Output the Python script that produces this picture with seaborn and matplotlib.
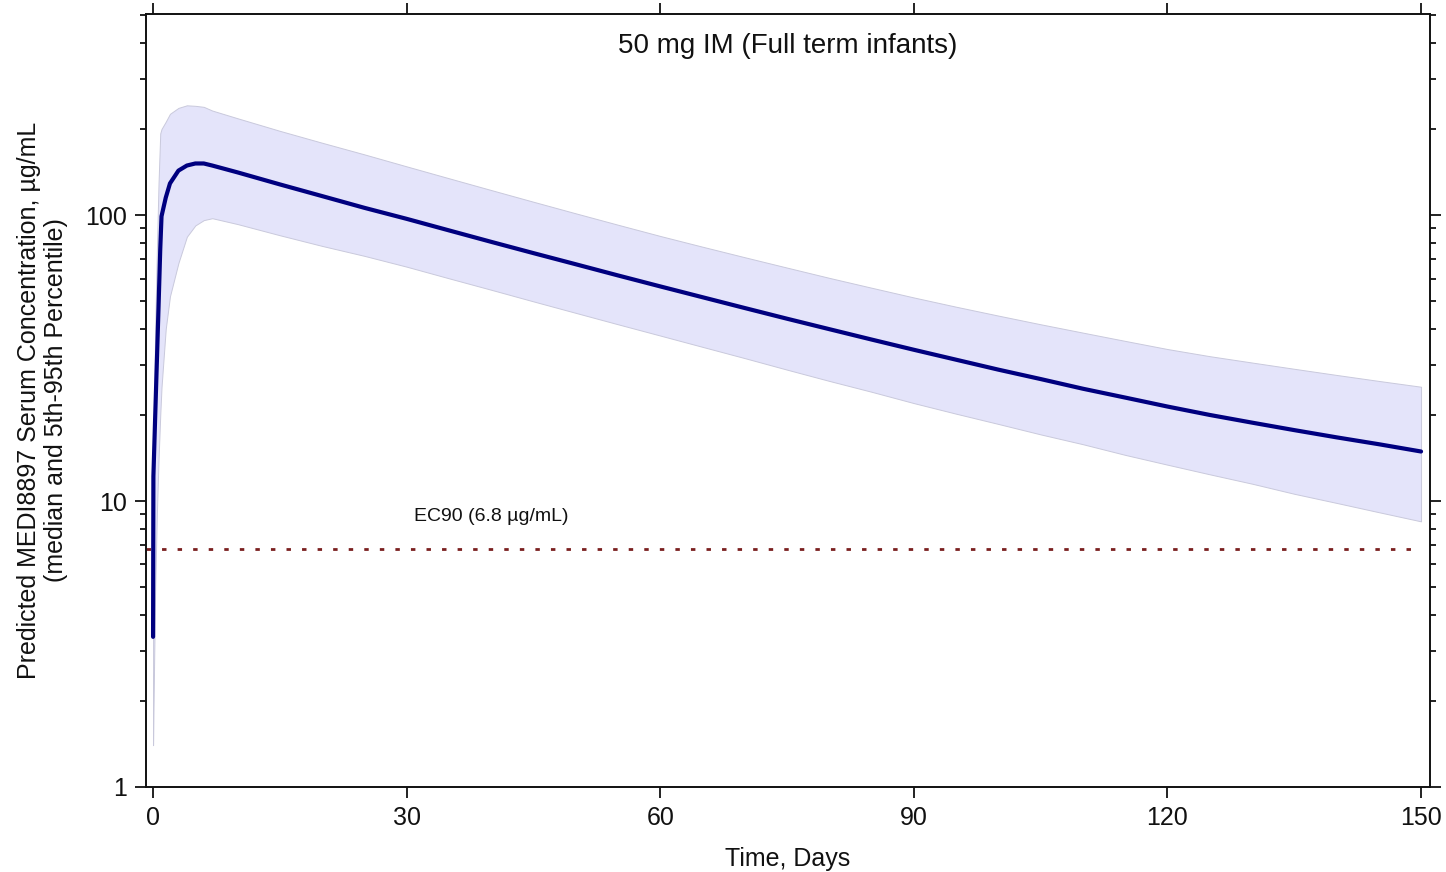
import numpy as np
import pandas as pd
import matplotlib
matplotlib.use("Agg")
import matplotlib.pyplot as plt
import matplotlib.ticker as mticker
import seaborn as sns

# ---- data ----
time_days = [0, 0.04, 0.25, 0.45, 0.65, 0.85, 1.0, 1.5, 2, 3, 4, 5, 6, 7, 10, 15, 20, 25,
             30, 35, 40, 45, 50, 55, 60, 65, 70, 75, 80, 85, 90, 95, 100, 105, 110,
             115, 120, 125, 130, 135, 140, 145, 150]
median_conc = [3.35, 12.2, 19.7, 30.7, 48, 76, 99, 115, 129, 143, 149, 151.5, 151.5, 149,
               141, 128, 116.5, 106, 97, 88.4, 80.6, 73.6, 67.3, 61.5, 56.3, 51.6, 47.3,
               43.4, 39.9, 36.7, 33.8, 31.2, 28.8, 26.7, 24.7, 23.0, 21.4, 20.0, 18.8,
               17.7, 16.7, 15.8, 14.9]
p95_conc = [5, 15, 40, 75, 130, 193, 200, 212, 226, 237, 242, 241, 239, 232, 218, 197,
            179, 163, 148, 134.5, 122.3, 111.3, 101.4, 92.5, 84.5, 77.5, 71.2, 65.5, 60.3,
            55.7, 51.5, 47.8, 44.5, 41.5, 38.8, 36.3, 34.0, 32.1, 30.5, 29.0, 27.6, 26.3,
            25.1]
p5_conc = [1.4, 1.8, 5, 9, 14, 20, 25, 40, 52, 68, 84, 92, 96, 97.5, 93, 85, 78, 72,
           66, 60.1, 54.8, 49.9, 45.5, 41.5, 37.9, 34.6, 31.6, 28.8, 26.3, 24.1, 22.0,
           20.2, 18.6, 17.1, 15.8, 14.5, 13.4, 12.4, 11.5, 10.6, 9.85, 9.14, 8.49]
ec90_value = 6.8
ec90_label = "EC90 (6.8 µg/mL)"
x_ticks = [0, 30, 60, 90, 120, 150]
y_ticks = [1, 10, 100]
title_text = "50 mg IM (Full term infants)"
xlabel_text = "Time, Days"
ylabel_text = "Predicted MEDI8897 Serum Concentration, µg/mL\n(median and 5th-95th Percentile)"

df = pd.DataFrame({"time": time_days, "median": median_conc,
                   "p5": p5_conc, "p95": p95_conc})

# ---- style ----
sns.set_style("ticks")
plt.rcParams["font.family"] = ["Liberation Sans", "DejaVu Sans"]
plt.rcParams["text.color"] = "#111111"
plt.rcParams["axes.labelcolor"] = "#111111"

fig = plt.figure(figsize=(14.46, 8.72), dpi=100)
ax = fig.add_axes([0.101, 0.0975, 0.888, 0.8865])

ax.fill_between(df["time"], df["p5"], df["p95"], facecolor="#e4e4fa",
                edgecolor="#c9c9dc", linewidth=0.7, zorder=1)
sns.lineplot(data=df, x="time", y="median", ax=ax, color="#00007f",
             linewidth=3.0, zorder=3, estimator=None, sort=False)

ax.set_yscale("log")
ax.set_xlim(-0.83, 151.07)
ax.set_ylim(1, 505)

ax.hlines(ec90_value, ax.get_xlim()[0], time_days[-1], colors="#7a1f1f",
          linestyles=(0, (1.6, 4.0)), linewidth=2.0, zorder=2)
ax.text(40, 8.8, ec90_label, ha="center", va="center", fontsize=14)

ax.text(0.5, 0.958, title_text, transform=ax.transAxes, ha="center",
        va="center", fontsize=20)

ax.set_xticks(x_ticks)
ax.set_yticks(y_ticks)
ax.yaxis.set_major_formatter(mticker.FuncFormatter(lambda v, p: f"{v:g}"))
ax.yaxis.set_minor_locator(mticker.LogLocator(base=10, subs=np.arange(2, 10)))
ax.yaxis.set_minor_formatter(mticker.NullFormatter())
ax.xaxis.set_minor_locator(mticker.NullLocator())

ax.tick_params(axis="both", which="major", direction="out", length=8, width=1.3,
               labelsize=18, colors="#111111", pad=6)
ax.tick_params(axis="y", which="minor", direction="out", length=4.5, width=1.3,
               colors="#111111")
ax.tick_params(axis="x", which="major", top=True, labeltop=False)
ax.tick_params(axis="y", which="both", right=True, labelright=False)

for s in ax.spines.values():
    s.set_visible(True)
    s.set_linewidth(1.4)
    s.set_color("#111111")

ax.set_xlabel(xlabel_text, fontsize=18, labelpad=12)
ax.set_ylabel(ylabel_text, fontsize=18, labelpad=12, linespacing=1.15)

fig.savefig("out.png", dpi=100)
